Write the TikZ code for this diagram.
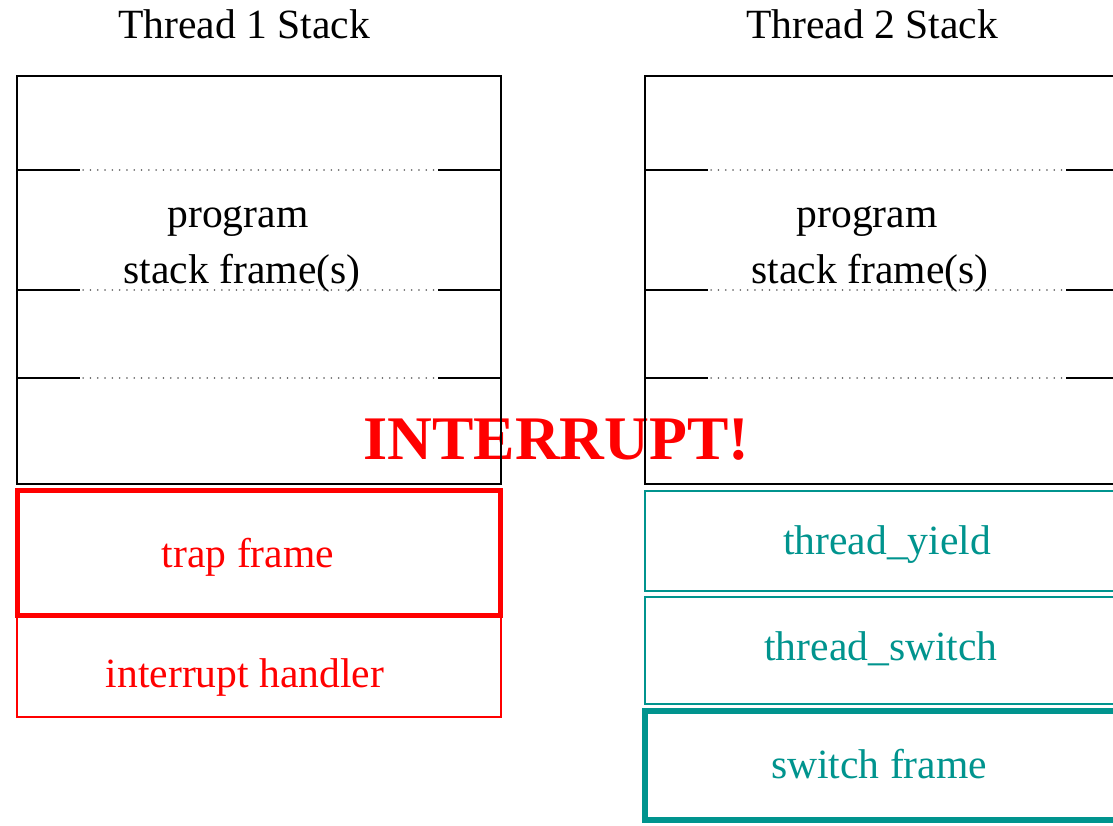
\documentclass[tikz,border=0pt]{standalone}
\usepackage{fontspec}
\setmainfont{Liberation Serif}
\definecolor{tealc}{RGB}{0,148,142}
\definecolor{redc}{RGB}{255,0,0}
\tikzset{
  txt/.style={anchor=base, inner sep=0pt, font=\fontsize{41.6}{50}\selectfont},
  box/.style={draw, rectangle, inner sep=0pt, outer sep=0pt},
  stackbox/.style={box, black, line width=2pt, minimum width=484pt, minimum height=408pt},
  solidseg/.style={black, line width=2pt},
  dotseg/.style={black!55, line width=1.4pt, line cap=round, dash pattern=on 0.3pt off 7pt},
}
\begin{document}
\begin{tikzpicture}[x=1pt, y=-1pt]
\useasboundingbox (0,0) rectangle (1113,825);
\clip (0,0) rectangle (1113,825);
\fill[white] (0,0) rectangle (1113,825);
% titles
\node[txt] (t1) at (244,38) {Thread 1 Stack};
\node[txt] (t2) at (872,38) {Thread 2 Stack};
% interrupt text (under the box lines)
\node[txt, text=redc, font=\fontsize{62}{70}\selectfont\bfseries] (intr) at (556.5,459) {INTERRUPT!};
% stacks
\node[stackbox] (s1) at (259,280) {};
\node[stackbox] (s2) at (887,280) {};
% dividers
\foreach \s/\a/\b/\c/\d in {s1/17/80/438/501, s2/645/708/1066/1129}{
  \foreach \y in {170,290,378}{
    \draw[solidseg] (\a,\y) -- (\b,\y);
    \draw[dotseg] (\b+3,\y) -- (\c-3,\y);
    \draw[solidseg] (\c,\y) -- (\d,\y);
  }
}
\node[txt] (p1) at (238,227) {program};
\node[txt] (f1) at (242,283) {stack frame(s)};
\node[txt] (p2) at (867,227) {program};
\node[txt] (f2) at (870,283) {stack frame(s)};
% thread 1 red frames
\node[box, draw=redc, line width=1.5pt, minimum width=484pt, minimum height=102pt] (ih) at (259,666) {};
\node[box, draw=redc, line width=5pt, minimum width=483pt, minimum height=125pt] (tf) at (259,553) {};
\node[txt, text=redc] (tft) at (248,567) {trap frame};
\node[txt, text=redc] (iht) at (245,687) {interrupt handler};
% thread 2 teal frames
\node[box, draw=tealc, line width=1.5pt, minimum width=484pt, minimum height=100pt] (ty) at (887,541) {};
\node[box, draw=tealc, line width=1.5pt, minimum width=484pt, minimum height=107pt] (ts) at (887,650.5) {};
\node[box, draw=tealc, line width=6pt, minimum width=484pt, minimum height=109pt] (sf) at (887,765.5) {};
\node[txt, text=tealc] (tyt) at (887,554) {thread\_yield};
\node[txt, text=tealc] (tst) at (881,660) {thread\_switch};
\node[txt, text=tealc] (sft) at (879,778) {switch frame};
\end{tikzpicture}
\end{document}
